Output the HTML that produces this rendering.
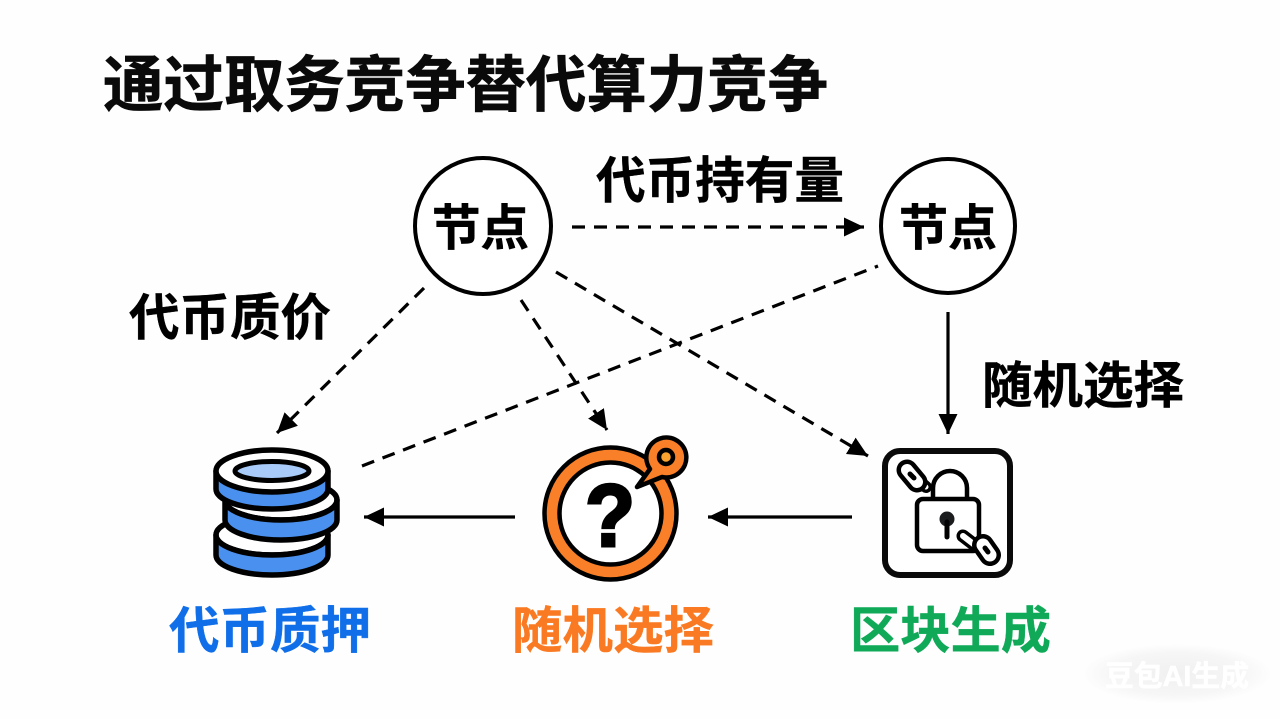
<!DOCTYPE html>
<html lang="zh"><head><meta charset="utf-8"><style>
html,body{margin:0;padding:0;background:#fff;width:1280px;height:719px;overflow:hidden}
svg{display:block}
text{font-family:"Liberation Sans","Noto Sans CJK SC",sans-serif;font-weight:700}
</style></head><body>
<svg width="1280" height="719" viewBox="0 0 1280 719" xmlns="http://www.w3.org/2000/svg">
<defs>
<radialGradient id="wm" cx="50%" cy="50%" r="50%"><stop offset="0" stop-color="#f0f0f0"/><stop offset="0.7" stop-color="#f6f6f6"/><stop offset="1" stop-color="#fefefe"/></radialGradient>
<marker id="h" markerUnits="userSpaceOnUse" markerWidth="24" markerHeight="24" refX="20" refY="12" orient="auto"><path d="M0 2.5 L20 12 L0 21.5 Z" fill="#000"/></marker>
</defs>
<rect width="1280" height="719" fill="#fefefe"/>
<text x="103" y="106" font-size="61" textLength="725" lengthAdjust="spacingAndGlyphs" fill="#0a0a0a" stroke="#0a0a0a" stroke-width="0.7">通过取务竞争替代算力竞争</text>

<circle cx="483" cy="226" r="68" fill="#fff" stroke="#000" stroke-width="4"/>
<circle cx="948" cy="226" r="67" fill="#fff" stroke="#000" stroke-width="4"/>
<text x="432" y="245" font-size="49" textLength="97" lengthAdjust="spacingAndGlyphs" fill="#000" stroke="#000" stroke-width="0.5">节点</text>
<text x="899" y="245" font-size="49" textLength="98" lengthAdjust="spacingAndGlyphs" fill="#000" stroke="#000" stroke-width="0.5">节点</text>
<text x="596" y="198" font-size="50" textLength="248" lengthAdjust="spacingAndGlyphs" fill="#000" stroke="#000" stroke-width="0.4">代币持有量</text>
<text x="129" y="335" font-size="50" textLength="202" lengthAdjust="spacingAndGlyphs" fill="#000" stroke="#000" stroke-width="0.4">代币质价</text>
<text x="982" y="403" font-size="50" textLength="202" lengthAdjust="spacingAndGlyphs" fill="#000" stroke="#000" stroke-width="0.4">随机选择</text>

<g fill="none" stroke="#000" stroke-width="3.2">
<path d="M572 227H864" stroke-dasharray="13 9" marker-end="url(#h)"/>
<path d="M424 288L277 433" stroke-dasharray="13 9" marker-end="url(#h)"/>
<path d="M521 300L607 430" stroke-dasharray="13 9" marker-end="url(#h)"/>
<path d="M556 272L868 456" stroke-dasharray="13 9" marker-end="url(#h)"/>
<path d="M362 466L878 266" stroke-dasharray="13 9"/>
<path d="M948 312V434" marker-end="url(#h)"/>
<path d="M852 517H708" marker-end="url(#h)"/>
<path d="M515 517H364" marker-end="url(#h)"/>
</g>

<!-- coins -->
<g stroke="#000" stroke-width="5.5" stroke-linejoin="round">
<ellipse cx="272" cy="535" rx="56" ry="20" fill="#fff"/>
<path d="M216 535V555A56 20 0 0 0 328 555V535A56 20 0 0 1 216 535Z" fill="#4a90ee"/>
<ellipse cx="281" cy="500" rx="56" ry="20" fill="#fff"/>
<path d="M225 500V520A56 20 0 0 0 337 520V500A56 20 0 0 1 225 500Z" fill="#4a90ee"/>
<path d="M216 471V489A56 20 0 0 0 328 489V471Z" fill="#4a90ee"/>
<ellipse cx="272" cy="471" rx="56" ry="21" fill="#fff"/>
<ellipse cx="272" cy="471" rx="37" ry="9.5" fill="#a8cbfa" stroke-width="5"/>
</g>

<!-- orange -->
<circle cx="610.5" cy="513.5" r="66" fill="#f98028" stroke="#000" stroke-width="4.5"/>
<circle cx="610.5" cy="513.5" r="51" fill="#fff" stroke="#000" stroke-width="4.5"/>
<path d="M637 487L650 469A20 20 0 1 1 662 477Z" fill="#f98028" stroke="#000" stroke-width="4.5" stroke-linejoin="round"/>
<circle cx="666" cy="457" r="7" fill="#fba32f" stroke="#000" stroke-width="4.5"/>
<text x="585" y="546" font-size="88" textLength="50" lengthAdjust="spacingAndGlyphs" fill="#000" stroke="#000" stroke-width="3">?</text>

<!-- lock -->
<rect x="885" y="451" width="125" height="124" rx="15" fill="#fff" stroke="#0a0a0a" stroke-width="6"/>
<path d="M933 498V488A17 17 0 0 1 967 488V498" fill="#fff" stroke="#000" stroke-width="4.5"/>
<rect x="917" y="499" width="62" height="52" rx="6" fill="#fff" stroke="#000" stroke-width="4.5"/>
<circle cx="947" cy="519" r="7.5" fill="#1a1c1e"/>
<path d="M947 522V537" stroke="#000" stroke-width="5" stroke-linecap="round"/>
<g fill="none" stroke-linecap="round">
<path d="M917 479L926 487" stroke="#000" stroke-width="12"/>
<path d="M917 479L926 487" stroke="#fff" stroke-width="5"/>
<path d="M907 470L917 482" stroke="#000" stroke-width="21"/>
<path d="M907 470L917 482" stroke="#fff" stroke-width="12"/>
<path d="M910 474L914 478" stroke="#000" stroke-width="5"/>
<path d="M963 536L976 546" stroke="#000" stroke-width="13"/>
<path d="M963 536L976 546" stroke="#fff" stroke-width="6"/>
<path d="M983 545L990 555" stroke="#000" stroke-width="22"/>
<path d="M983 545L990 555" stroke="#fff" stroke-width="13"/>
<path d="M985 548L988 552" stroke="#000" stroke-width="5"/>
</g>

<text x="169" y="648" font-size="50" textLength="202" lengthAdjust="spacingAndGlyphs" fill="#106fe8" stroke="#106fe8" stroke-width="0.4">代币质押</text>
<text x="512" y="648" font-size="50" textLength="202" lengthAdjust="spacingAndGlyphs" fill="#f97a22" stroke="#f97a22" stroke-width="0.4">随机选择</text>
<text x="850" y="648" font-size="50" textLength="201" lengthAdjust="spacingAndGlyphs" fill="#0fa958" stroke="#0fa958" stroke-width="0.4">区块生成</text>

<ellipse cx="1177" cy="674" rx="95" ry="30" fill="url(#wm)"/>
<text x="1105" y="686" font-size="29" textLength="144" lengthAdjust="spacingAndGlyphs" fill="#fff" stroke="#fff" stroke-width="0.5">豆包AI生成</text>
</svg>
</body></html>
